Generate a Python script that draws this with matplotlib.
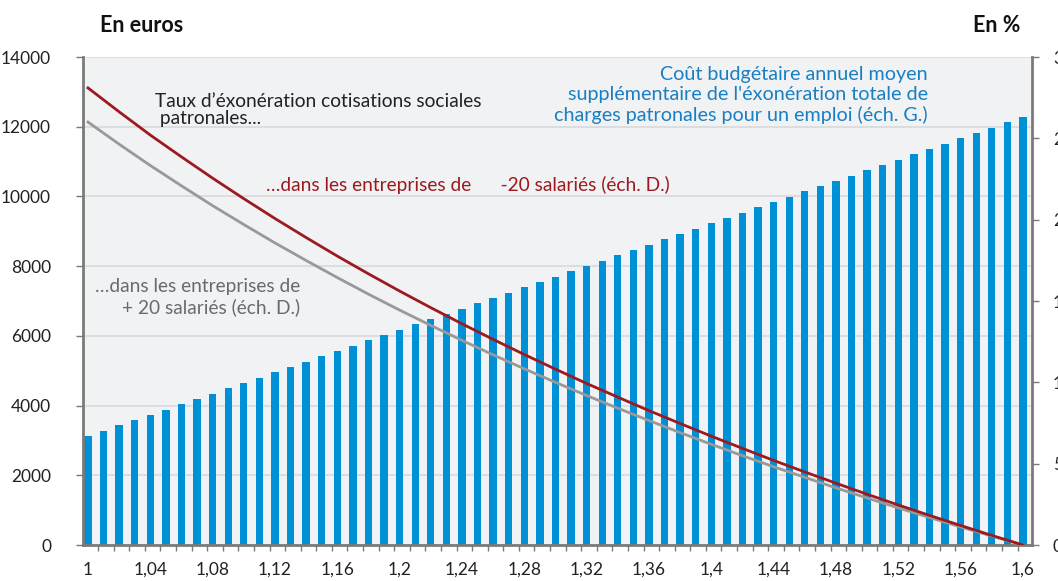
import numpy as np
import matplotlib
matplotlib.use("Agg")
import matplotlib.pyplot as plt

plt.rcParams['font.family'] = ['Lato', 'DejaVu Sans']

# salaire en multiple du SMIC (categories)
salaire = [round(1 + k / 100, 2) for k in range(61)]

# cout budgetaire annuel moyen supplementaire (euros, axe gauche)
cout = [3130, 3270, 3440, 3590, 3730, 3870, 4050, 4190, 4330, 4500,
        4650, 4790, 4960, 5110, 5250, 5420, 5570, 5710, 5880, 6020,
        6170, 6340, 6480, 6630, 6770, 6940, 7090, 7230, 7400, 7540,
        7690, 7860, 8000, 8150, 8320, 8460, 8610, 8780, 8920, 9070,
        9240, 9380, 9520, 9700, 9840, 9980, 10160, 10300, 10440, 10590,
        10760, 10900, 11040, 11220, 11360, 11500, 11680, 11820, 11960, 12130,
        12280]

# taux d'exoneration (en %, axe droit), lu tous les 0,02
x_taux = [1.00, 1.02, 1.04, 1.06, 1.08, 1.10, 1.12, 1.14, 1.16, 1.18,
          1.20, 1.22, 1.24, 1.26, 1.28, 1.30, 1.32, 1.34, 1.36, 1.38,
          1.40, 1.42, 1.44, 1.46, 1.48, 1.50, 1.52, 1.54, 1.56, 1.58, 1.60]
taux_moins20 = [28.1, 26.63, 25.2, 23.86, 22.55, 21.29, 20.07, 18.9, 17.76, 16.67,
                15.61, 14.59, 13.6, 12.64, 11.71, 10.81, 9.93, 9.09, 8.26, 7.47,
                6.69, 5.94, 5.2, 4.49, 3.8, 3.12, 2.46, 1.82, 1.2, 0.59, 0.0]
taux_plus20 = [26.0, 24.64, 23.33, 22.08, 20.86, 19.7, 18.57, 17.49, 16.44, 15.42,
               14.44, 13.5, 12.58, 11.69, 10.83, 10.0, 9.19, 8.41, 7.65, 6.91,
               6.19, 5.49, 4.81, 4.16, 3.51, 2.89, 2.28, 1.69, 1.11, 0.55, 0.0]

xtick_vals = [1.00, 1.04, 1.08, 1.12, 1.16, 1.20, 1.24, 1.28,
              1.32, 1.36, 1.40, 1.44, 1.48, 1.52, 1.56, 1.60]
xtick_labels = ['1', '1,04', '1,08', '1,12', '1,16', '1,2', '1,24', '1,28',
                '1,32', '1,36', '1,4', '1,44', '1,48', '1,52', '1,56', '1,6']

blue = '#0090d5'
red = '#9c1a1f'
grey = '#999999'
spine_col = '#7a7a7a'

fig = plt.figure(figsize=(10.58, 5.81), dpi=100)
ax = fig.add_axes([83 / 1058, 1 - 545 / 581, (1032 - 83) / 1058, (545 - 57) / 581])
ax.set_facecolor('#f1f2f4')

ax.bar(salaire, cout, width=0.0047, color=blue, zorder=2)
ax.set_xlim(0.9968, 1.6058)
ax.set_ylim(0, 14000)
ax.set_yticks(range(0, 14001, 2000))
ax.set_yticklabels([str(v) for v in range(0, 14001, 2000)], fontsize=12.5, color='#222222')
ax.grid(axis='y', color='#d8d9db', linewidth=1.2, zorder=0)
ax.set_axisbelow(True)

ax.set_xticks(xtick_vals)
ax.set_xticklabels(xtick_labels, fontsize=12.5, color='#222222')
ax.tick_params(axis='x', length=0, pad=12)
ax.set_xticks([s + 0.0065 for s in salaire[:-1]], minor=True)
ax.tick_params(axis='x', which='minor', length=4, width=1, color=spine_col)
ax.tick_params(axis='y', length=5, width=1, color=spine_col, pad=18)

for side in ['left', 'bottom']:
    ax.spines[side].set_color(spine_col)
    ax.spines[side].set_linewidth(2)
ax.spines['top'].set_visible(False)
ax.spines['right'].set_visible(False)

ax2 = ax.twinx()
ax2.plot(x_taux, taux_plus20, color=grey, linewidth=2, zorder=3)
ax2.plot(x_taux, taux_moins20, color=red, linewidth=2, zorder=4)
ax2.set_ylim(0, 30)
ax2.set_yticks(range(0, 31, 5))
ax2.set_yticklabels([str(v) for v in range(0, 31, 5)], fontsize=12.5, color='#222222')
ax2.tick_params(axis='y', length=5, width=1, color=spine_col, pad=10)
ax2.spines['right'].set_color(spine_col)
ax2.spines['right'].set_linewidth(2)
for side in ['left', 'top', 'bottom']:
    ax2.spines[side].set_visible(False)

# titres des axes
fig.text(100 / 1058, 1 - 25 / 581, 'En euros', fontsize=15.5, fontweight='bold',
         va='center', ha='left', color='#111111')
fig.text(1020 / 1058, 1 - 25 / 581, 'En %', fontsize=15.5, fontweight='bold',
         va='center', ha='right', color='#111111')

# annotations
fig.text(155 / 1058, 1 - 110 / 581,
         'Taux d\u2019éxonération cotisations sociales\n patronales...',
         fontsize=13.8, color='#222222', va='center', ha='left', linespacing=1.05)
fig.text(266 / 1058, 1 - 185 / 581,
         '\u2026dans les entreprises de      -20 salariés (éch. D.)',
         fontsize=13.8, color=red, va='center', ha='left')
fig.text(300 / 1058, 1 - 297 / 581,
         '\u2026dans les entreprises de\n+ 20 salariés (éch. D.)',
         fontsize=13.8, color='#6a6a6a', va='center', ha='right',
         multialignment='right', linespacing=1.2)
fig.text(928 / 1058, 1 - 95 / 581,
         'Coût budgétaire annuel moyen\nsupplémentaire de l\'éxonération totale de\n'
         'charges patronales pour un emploi (éch. G.)',
         fontsize=14.2, color='#1a7fc2', va='center', ha='right',
         multialignment='right', linespacing=1.17)

fig.savefig('out.png', dpi=100)
